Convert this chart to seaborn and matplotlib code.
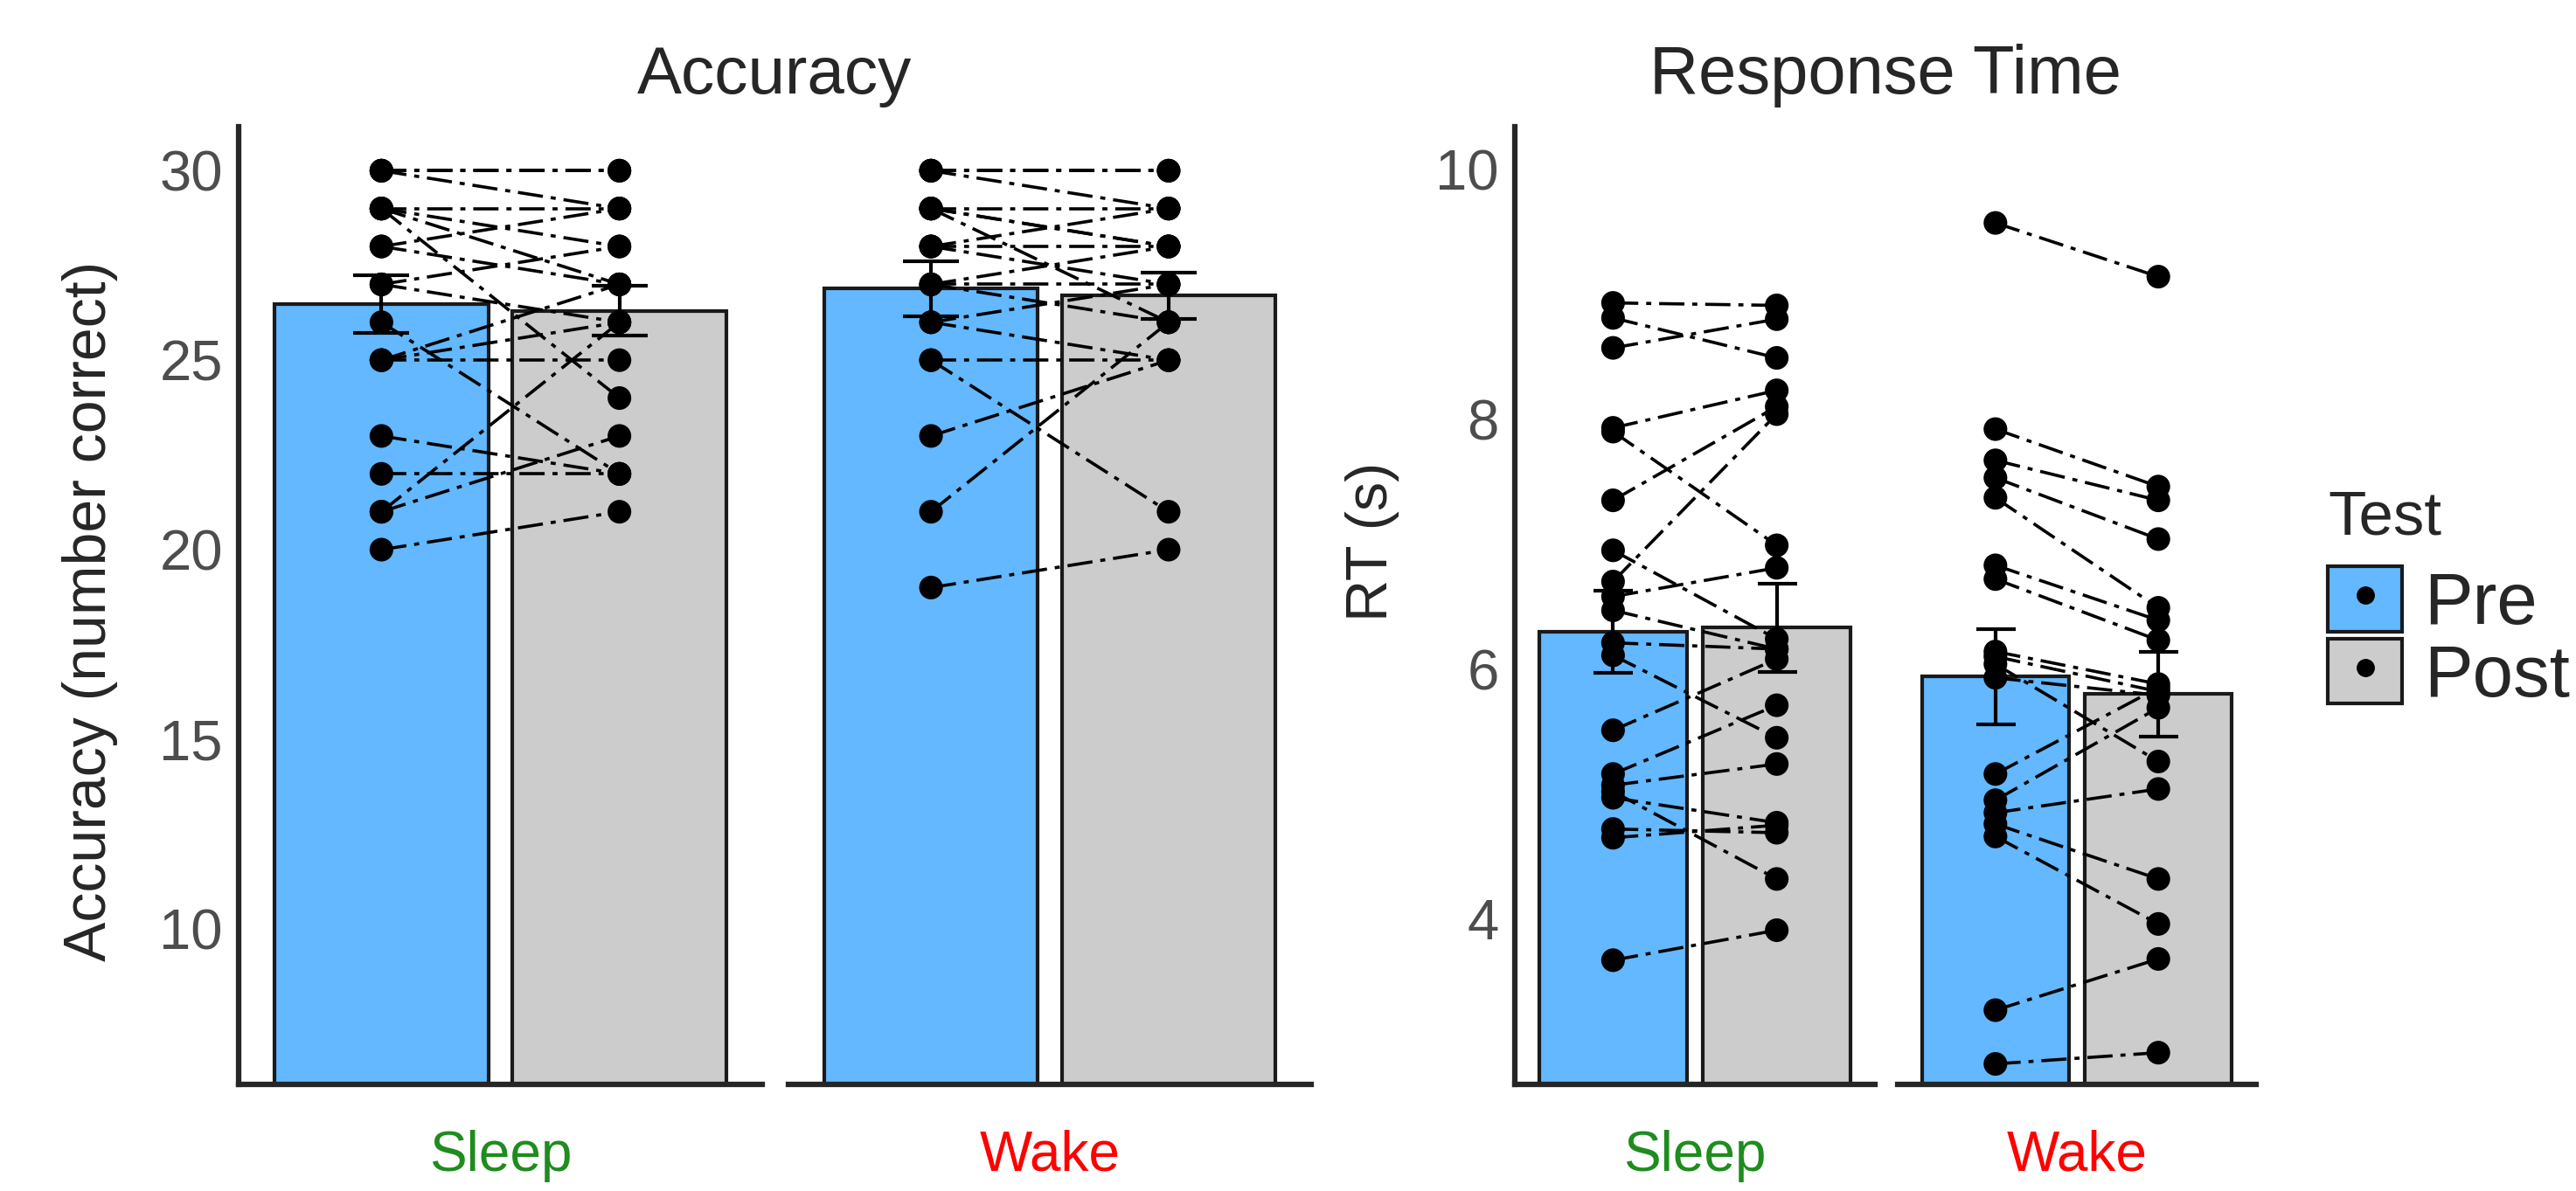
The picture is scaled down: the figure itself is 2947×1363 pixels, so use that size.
import numpy as np
import pandas as pd
import matplotlib.pyplot as plt
import seaborn as sns
from matplotlib.patches import Patch
from matplotlib.lines import Line2D
from matplotlib.legend_handler import HandlerTuple

# categories and colours
tests = ['Pre', 'Post']
test_colors = ['#63B8FF', '#CCCCCC']
groups = ['Sleep', 'Wake']
group_colors = ['#1E8C1E', '#FF0000']

# bar heights and standard errors
acc_sleep_mean = [26.48, 26.30]
acc_sleep_se = [0.75, 0.66]
acc_wake_mean = [26.89, 26.70]
acc_wake_se = [0.73, 0.62]
rt_sleep_mean = [6.30, 6.33]
rt_sleep_se = [0.33, 0.35]
rt_wake_mean = [5.94, 5.80]
rt_wake_se = [0.38, 0.34]

# individual subjects (pre value, post value at the same index)
acc_sleep_pre = [30, 30, 30, 29, 29, 29, 28, 28, 27, 27, 26, 25, 25, 25, 23, 22, 21, 21, 20, 29]
acc_sleep_post = [30, 29, 30, 28, 24, 29, 27, 29, 28, 26, 22, 25, 26, 27, 22, 22, 23, 26, 21, 27]
acc_wake_pre = [30, 30, 30, 29, 29, 29, 28, 28, 28, 27, 27, 26, 26, 25, 25, 23, 21, 19, 29, 27]
acc_wake_post = [30, 29, 30, 28, 26, 29, 28, 27, 29, 28, 27, 25, 27, 25, 21, 25, 26, 20, 28, 26]
rt_sleep_pre = [8.93, 8.81, 8.57, 7.93, 7.90, 7.35, 6.95, 6.70, 6.58, 6.47,
                6.21, 6.11, 5.51, 5.16, 5.07, 4.97, 5.02, 4.72, 4.65, 3.67]
rt_sleep_post = [8.91, 8.49, 8.80, 8.23, 6.99, 8.10, 6.24, 8.04, 6.81, 6.16,
                 6.16, 5.45, 6.08, 5.71, 5.24, 4.77, 4.32, 4.69, 4.75, 3.91]
rt_wake_pre = [9.57, 7.92, 7.67, 7.53, 7.37, 6.83, 6.72, 6.14, 6.04, 5.93,
               5.16, 4.95, 4.85, 4.76, 4.66, 3.27, 2.84, 6.10]
rt_wake_post = [9.14, 7.46, 7.35, 7.04, 6.49, 6.39, 6.23, 5.88, 5.26, 5.79,
                5.85, 5.69, 5.04, 4.32, 3.96, 3.68, 2.93, 5.82]

W, H = 2947, 1363
sns.set_style('white')
plt.rcParams['font.family'] = ['Liberation Sans', 'DejaVu Sans']

fig = plt.figure(figsize=(W / 100, H / 100), dpi=100)


def px_axes(x0, x1, y0, y1, **kw):
    return fig.add_axes([x0 / W, 1 - y1 / H, (x1 - x0) / W, (y1 - y0) / H], **kw)


def draw_facet(ax, pre, post, means, ses, capsize):
    bars = pd.DataFrame({'Test': tests, 'value': means})
    sns.barplot(data=bars, x='Test', y='value', hue='Test', palette=test_colors,
                saturation=1, width=0.9, edgecolor='#1A1A1A', linewidth=3,
                legend=False, ax=ax)
    ax.errorbar([0, 1], means, yerr=ses, fmt='none', ecolor='black',
                elinewidth=3, capsize=capsize, capthick=3, zorder=3)
    n = len(pre)
    subj = pd.DataFrame({'subject': np.tile(np.arange(n), 2),
                         'x': np.repeat([0, 1], n),
                         'value': np.concatenate([pre, post])})
    sns.lineplot(data=subj, x='x', y='value', units='subject', estimator=None,
                 color='black', linewidth=2.6, linestyle=(0, (8, 2.5, 1.6, 2.5)),
                 ax=ax, zorder=4)
    sns.scatterplot(data=subj, x='x', y='value', color='black', s=380,
                    edgecolor='none', ax=ax, zorder=5)
    ax.set_xlim(-0.6, 1.6)
    ax.set_xticks([0, 1])
    ax.set_xticklabels(['', ''])
    ax.set_ylabel('')
    ax.set_xlabel('')
    for side in ['top', 'right']:
        ax.spines[side].set_visible(False)
    ax.spines['bottom'].set_linewidth(4.5)
    ax.spines['left'].set_linewidth(4.5)
    ax.tick_params(axis='x', length=9, width=1.5, color='#333333')


def facet_label(ax, name, color):
    ax.text(0.5, -0.09, name, transform=ax.transAxes, ha='center',
            va='baseline', fontsize=46, color=color)


ax_as = px_axes(273, 872, 145, 1241)
ax_aw = px_axes(902, 1500, 145, 1241, sharey=ax_as)
ax_rs = px_axes(1733, 2145, 145, 1241)
ax_rw = px_axes(2171, 2581, 145, 1241, sharey=ax_rs)

draw_facet(ax_as, acc_sleep_pre, acc_sleep_post, acc_sleep_mean, acc_sleep_se, 22.7)
draw_facet(ax_aw, acc_wake_pre, acc_wake_post, acc_wake_mean, acc_wake_se, 22.7)
draw_facet(ax_rs, rt_sleep_pre, rt_sleep_post, rt_sleep_mean, rt_sleep_se, 16.2)
draw_facet(ax_rw, rt_wake_pre, rt_wake_post, rt_wake_mean, rt_wake_se, 16.2)

ax_as.set_ylim(5.89, 31.16)
ax_as.set_yticks([10, 15, 20, 25, 30])
ax_rs.set_ylim(2.676, 10.34)
ax_rs.set_yticks([4, 6, 8, 10])

for ax in [ax_as, ax_rs]:
    ax.tick_params(axis='y', length=9, width=1.5, color='#333333',
                   labelsize=47, labelcolor='#4D4D4D', pad=4)
for ax in [ax_aw, ax_rw]:
    ax.spines['left'].set_visible(False)
    ax.tick_params(axis='y', left=False, labelleft=False)

for ax, name, color in [(ax_as, groups[0], group_colors[0]), (ax_aw, groups[1], group_colors[1]),
                        (ax_rs, groups[0], group_colors[0]), (ax_rw, groups[1], group_colors[1])]:
    facet_label(ax, name, color)

# panel titles and axis titles
fig.text(886 / W, 1 - 107 / H, 'Accuracy', ha='center', va='baseline', fontsize=55)
fig.text(2157 / W, 1 - 107 / H, 'Response Time', ha='center', va='baseline', fontsize=56)
fig.text(103 / W, 1 - 699 / H, 'Accuracy (number correct)', rotation=90,
         ha='center', va='center', fontsize=49)
fig.text(1570 / W, 1 - 620 / H, 'RT (s)', rotation=90, ha='center', va='center', fontsize=48)

# legend
fig.text(2663 / W, 1 - 611 / H, 'Test', ha='left', va='baseline', fontsize=51)
handles = [(Patch(facecolor=c, edgecolor='#1A1A1A', linewidth=3),
            Line2D([], [], ls='none', marker='o', color='black', markersize=14))
           for c in test_colors]
fig.legend(handles, tests, handler_map={tuple: HandlerTuple(ndivide=1)},
           loc='upper left', bbox_to_anchor=(2663 / W, 1 - 648 / H),
           frameon=False, fontsize=60, handlelength=1.02,
           handleheight=1.0, handletextpad=0.3, labelspacing=0.0,
           borderpad=0, borderaxespad=0)

fig.savefig('out.png', dpi=100)
